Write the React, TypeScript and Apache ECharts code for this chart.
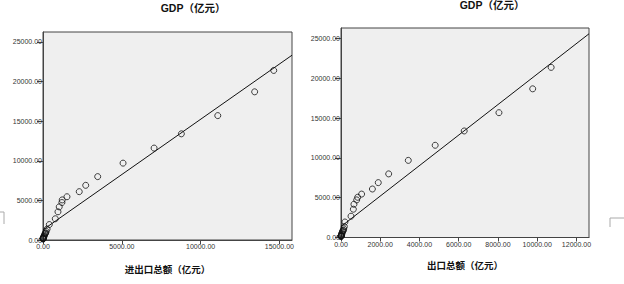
import React, { useEffect, useRef } from "react";
import * as echarts from "echarts";

// GDP (亿元) per year (shared y values)
const gdp = [21400, 18700, 15700, 13400, 11600, 9700, 8000, 6900, 6100, 5460, 5060, 4730, 4180, 3560, 2680, 1950, 1380, 1090, 905, 850, 770, 610, 500, 430, 325, 260, 235, 205, 180, 157, 124];
// 进出口总额 (亿元)
const totalTrade = [14640, 13430, 11090, 8780, 7050, 5080, 3470, 2710, 2300, 1520, 1220, 1200, 1030, 950, 780, 400, 260, 200, 170, 150, 120, 90, 70, 50, 35, 20, 15, 10, 8, 5, 3];
// 出口总额 (亿元)
const exportsTotal = [10710, 9770, 8050, 6280, 4800, 3430, 2430, 1900, 1600, 1050, 850, 800, 660, 630, 510, 200, 170, 140, 120, 100, 80, 60, 45, 35, 25, 15, 10, 7, 5, 3, 2];

const leftXTicks = [0, 5000, 10000, 15000];
const rightXTicks = [0, 2000, 4000, 6000, 8000, 10000, 12000];
const yTicks = [0, 5000, 10000, 15000, 20000, 25000];

const titleText = "GDP（亿元）";
const leftXName = "进出口总额（亿元）";
const rightXName = "出口总额（亿元）";

function ols(xs: number[], ys: number[]) {
  const n = xs.length;
  const mx = xs.reduce((a, b) => a + b, 0) / n;
  const my = ys.reduce((a, b) => a + b, 0) / n;
  let sxy = 0;
  let sxx = 0;
  for (let i = 0; i < n; i++) {
    sxy += (xs[i] - mx) * (ys[i] - my);
    sxx += (xs[i] - mx) * (xs[i] - mx);
  }
  const slope = sxy / sxx;
  return { slope, intercept: my - slope * mx };
}

const SANS = "'Liberation Sans', Arial, 'Noto Sans CJK SC', sans-serif";
const fmt = (v: number) => Number(v).toFixed(2);

function makeX(gridIndex: number, max: number, ticks: number[], name: string, gap: number) {
  return {
    gridIndex,
    type: "value",
    min: 0,
    max,
    axisLine: { show: true, onZero: false, lineStyle: { color: "#444", width: 1 } },
    axisTick: { show: true, customValues: ticks, length: 4, lineStyle: { color: "#444" } },
    axisLabel: { customValues: ticks, formatter: fmt, fontSize: 7, color: "#333", margin: 3, fontFamily: SANS },
    splitLine: { show: false },
    name,
    nameLocation: "middle",
    nameGap: gap,
    nameTextStyle: { fontSize: 9.5, fontWeight: "bold", color: "#111", fontFamily: "'Noto Sans CJK SC', sans-serif" },
  };
}

function makeY(gridIndex: number, max: number) {
  return {
    gridIndex,
    type: "value",
    min: 0,
    max,
    axisLine: { show: true, onZero: false, lineStyle: { color: "#444", width: 1 } },
    axisTick: { show: true, customValues: yTicks, length: 6, lineStyle: { color: "#444" } },
    axisLabel: { customValues: yTicks, formatter: fmt, fontSize: 7, color: "#333", margin: 1, fontFamily: SANS },
    splitLine: { show: false },
  };
}

export default function App() {
  const ref = useRef<HTMLDivElement>(null);
  useEffect(() => {
    if (!ref.current) return;
    const chart = echarts.init(ref.current, null, { renderer: "svg" });
    const leftMax = 15800;
    const rightMax = 12640;
    const fitL = ols(totalTrade, gdp);
    const fitR = ols(exportsTotal, gdp);
    const markerStyle = { color: "rgba(0,0,0,0)", borderColor: "#111", borderWidth: 1 };
    chart.setOption({
      animation: false,
      backgroundColor: "#ffffff",
      grid: [
        { left: 43, top: 32, width: 249, height: 208, show: true, backgroundColor: "#efefef", borderColor: "#444", borderWidth: 1 },
        { left: 341, top: 28, width: 248, height: 209.5, show: true, backgroundColor: "#efefef", borderColor: "#444", borderWidth: 1 },
      ],
      xAxis: [makeX(0, leftMax, leftXTicks, leftXName, 24), makeX(1, rightMax, rightXTicks, rightXName, 23)],
      yAxis: [makeY(0, 26250), makeY(1, 26350)],
      series: [
        {
          type: "scatter",
          xAxisIndex: 0,
          yAxisIndex: 0,
          symbol: "circle",
          symbolSize: 6,
          itemStyle: markerStyle,
          data: totalTrade.map((x, i) => [x, gdp[i]]),
        },
        {
          type: "line",
          xAxisIndex: 0,
          yAxisIndex: 0,
          symbol: "none",
          lineStyle: { color: "#111", width: 1 },
          data: [
            [0, fitL.intercept],
            [leftMax, fitL.intercept + fitL.slope * leftMax],
          ],
        },
        {
          type: "scatter",
          xAxisIndex: 1,
          yAxisIndex: 1,
          symbol: "circle",
          symbolSize: 6,
          itemStyle: markerStyle,
          data: exportsTotal.map((x, i) => [x, gdp[i]]),
        },
        {
          type: "line",
          xAxisIndex: 1,
          yAxisIndex: 1,
          symbol: "none",
          lineStyle: { color: "#111", width: 1 },
          data: [
            [0, fitR.intercept],
            [rightMax, fitR.intercept + fitR.slope * rightMax],
          ],
        },
      ],
      graphic: [
        {
          type: "text",
          x: 193,
          y: 8,
          style: { text: titleText, fill: "#111", font: "bold 10.5px 'Liberation Sans', 'Noto Sans CJK SC', sans-serif", textAlign: "center", textVerticalAlign: "middle" },
        },
        {
          type: "text",
          x: 492,
          y: 5,
          style: { text: titleText, fill: "#111", font: "bold 10.5px 'Liberation Sans', 'Noto Sans CJK SC', sans-serif", textAlign: "center", textVerticalAlign: "middle" },
        },
        {
          type: "polyline",
          shape: { points: [[0, 212], [4, 212], [4, 224]] },
          style: { stroke: "#aaa", lineWidth: 1, fill: null },
        },
        {
          type: "polyline",
          shape: { points: [[624, 218], [610, 218], [610, 227]] },
          style: { stroke: "#aaa", lineWidth: 1, fill: null },
        },
      ],
    });
    return () => chart.dispose();
  }, []);
  return <div ref={ref} style={{ position: "fixed", left: 0, top: 0, width: 624, height: 284 }} />;
}
